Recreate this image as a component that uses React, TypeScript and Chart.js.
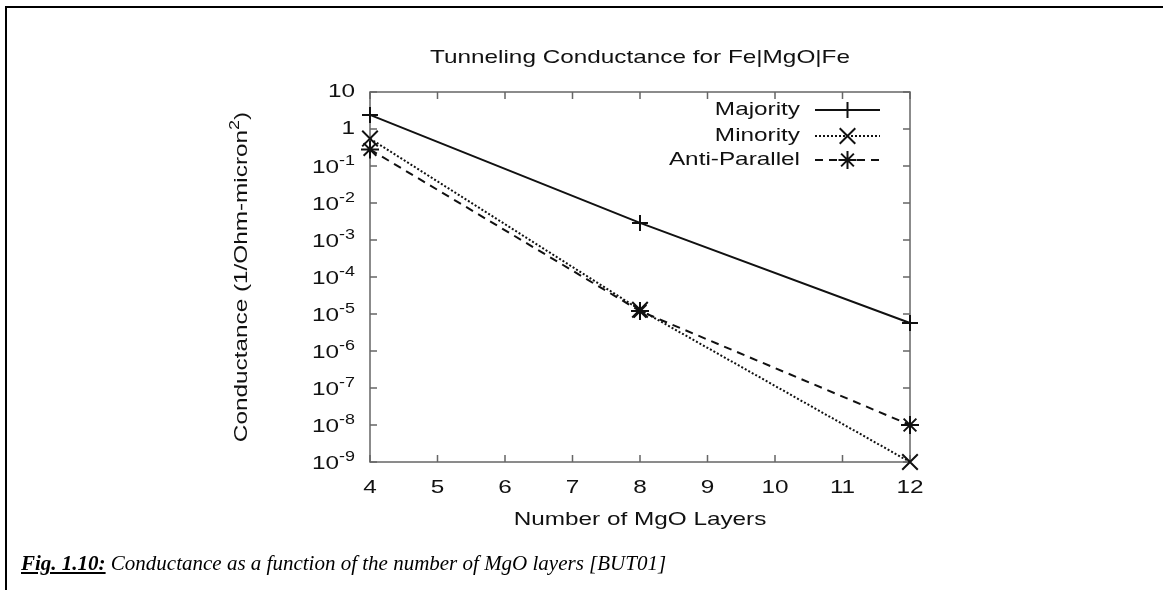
import React, { useEffect, useRef } from "react";
import { Chart, registerables } from "chart.js";

Chart.register(...registerables);

// ---- data ----
const layers = [4, 8, 12];
const majority = [2.4, 2.9e-3, 5.7e-6];
const minority = [0.55, 1.3e-5, 1.0e-9];
const antiParallel = [0.28, 1.2e-5, 1.0e-8];
const seriesNames = ["Majority", "Minority", "Anti-Parallel"];
const xTicks = [4, 5, 6, 7, 8, 9, 10, 11, 12];
const yTickExps = [1, 0, -1, -2, -3, -4, -5, -6, -7, -8, -9];
const chartTitle = "Tunneling Conductance for Fe|MgO|Fe";
const xTitle = "Number of MgO Layers";
const yTitleMain = "Conductance (1/Ohm-micron";
const yTitleSup = "2";
const yTitleEnd = ")";
const captionLead = "Fig. 1.10:";
const captionText = " Conductance as a function of the number of MgO layers [BUT01]";

const W = 1163;
const H = 590;
const FONT = "'Liberation Sans', Arial, Helvetica, sans-serif";
const INK = "#111";
const AXIS = "#666";
const SX = 1.28; // horizontal glyph stretch of the original plot font
const BIG = 19;
const SMALL = 14;

type Style = { dash: number[]; marker: string; radius: number };
const styles: Style[] = [
  { dash: [], marker: "cross", radius: 8 },
  { dash: [2, 2], marker: "crossRot", radius: 11 },
  { dash: [8, 6], marker: "star", radius: 9 },
];

function tw(ctx: CanvasRenderingContext2D, s: string, size: number) {
  ctx.font = `${size}px ${FONT}`;
  return ctx.measureText(s).width * SX;
}

// draws text left-aligned at (x,y) (middle baseline), glyphs stretched by SX
function txt(ctx: CanvasRenderingContext2D, s: string, x: number, y: number, size: number) {
  ctx.save();
  ctx.font = `${size}px ${FONT}`;
  ctx.textAlign = "left";
  ctx.textBaseline = "middle";
  ctx.fillStyle = INK;
  ctx.translate(x, y);
  ctx.scale(SX, 1);
  ctx.fillText(s, 0, 0);
  ctx.restore();
}

function drawMarker(ctx: CanvasRenderingContext2D, kind: string, x: number, y: number, r: number) {
  ctx.save();
  ctx.setLineDash([]);
  ctx.lineWidth = 2;
  ctx.strokeStyle = INK;
  ctx.beginPath();
  const d = r * Math.SQRT1_2;
  if (kind === "cross" || kind === "star") {
    ctx.moveTo(x - r, y);
    ctx.lineTo(x + r, y);
    ctx.moveTo(x, y - r);
    ctx.lineTo(x, y + r);
  }
  if (kind === "crossRot" || kind === "star") {
    ctx.moveTo(x - d, y - d);
    ctx.lineTo(x + d, y + d);
    ctx.moveTo(x - d, y + d);
    ctx.lineTo(x + d, y - d);
  }
  ctx.stroke();
  ctx.restore();
}

function drawPow(ctx: CanvasRenderingContext2D, exp: number, xRight: number, yc: number) {
  if (exp === 0 || exp === 1) {
    const s = exp === 0 ? "1" : "10";
    txt(ctx, s, xRight - tw(ctx, s, BIG), yc, BIG);
  } else {
    const sup = String(exp);
    const ws = tw(ctx, sup, SMALL);
    const wb = tw(ctx, "10", BIG);
    const x0 = xRight - ws - wb;
    txt(ctx, "10", x0, yc + 2, BIG);
    txt(ctx, sup, x0 + wb, yc - 5, SMALL);
  }
}

const gnuplotPlugin = {
  id: "gnuplotFrame",
  beforeDatasetsDraw(chart: any) {
    const { ctx, chartArea: a, scales } = chart;
    const xs = scales.x;
    const ys = scales.y;
    ctx.save();
    ctx.strokeStyle = AXIS;
    ctx.lineWidth = 1.5;
    ctx.strokeRect(a.left, a.top, a.right - a.left, a.bottom - a.top);
    ctx.beginPath();
    const tl = 7;
    for (const v of xTicks) {
      const px = xs.getPixelForValue(v);
      ctx.moveTo(px, a.bottom);
      ctx.lineTo(px, a.bottom - tl);
      ctx.moveTo(px, a.top);
      ctx.lineTo(px, a.top + tl);
    }
    for (const e of yTickExps) {
      const py = ys.getPixelForValue(Math.pow(10, e));
      ctx.moveTo(a.left, py);
      ctx.lineTo(a.left + tl, py);
      ctx.moveTo(a.right, py);
      ctx.lineTo(a.right - tl, py);
    }
    ctx.stroke();
    ctx.restore();
  },
  afterDatasetsDraw(chart: any) {
    const { ctx, chartArea: a, scales } = chart;
    const xs = scales.x;
    const ys = scales.y;
    const cx = (a.left + a.right) / 2;
    ctx.save();
    // x tick labels
    for (const v of xTicks) {
      const s = String(v);
      txt(ctx, s, xs.getPixelForValue(v) - tw(ctx, s, BIG) / 2, a.bottom + 26, BIG);
    }
    // y tick labels
    for (const e of yTickExps) {
      drawPow(ctx, e, a.left - 15, ys.getPixelForValue(Math.pow(10, e)));
    }
    // title
    txt(ctx, chartTitle, cx - tw(ctx, chartTitle, BIG) / 2, a.top - 34, BIG);
    // x title
    txt(ctx, xTitle, cx - tw(ctx, xTitle, BIG) / 2, a.bottom + 58, BIG);
    // y title rotated
    ctx.save();
    ctx.translate(a.left - 128, (a.top + a.bottom) / 2);
    ctx.rotate(-Math.PI / 2);
    const w1 = tw(ctx, yTitleMain, BIG);
    const w2 = tw(ctx, yTitleSup, SMALL);
    const w3 = tw(ctx, yTitleEnd, BIG);
    const x0 = -(w1 + w2 + w3) / 2;
    txt(ctx, yTitleMain, x0, 0, BIG);
    txt(ctx, yTitleSup, x0 + w1, -7, SMALL);
    txt(ctx, yTitleEnd, x0 + w1 + w2, 0, BIG);
    ctx.restore();
    // legend
    const rowY = [a.top + 18, a.top + 44, a.top + 68];
    const textRight = a.right - 110;
    const sx0 = a.right - 95;
    const sx1 = a.right - 30;
    seriesNames.forEach((name, i) => {
      const y = rowY[i];
      txt(ctx, name, textRight - tw(ctx, name, BIG), y, BIG);
      ctx.save();
      ctx.strokeStyle = INK;
      ctx.lineWidth = 2;
      ctx.setLineDash(styles[i].dash);
      ctx.beginPath();
      ctx.moveTo(sx0, y);
      ctx.lineTo(sx1, y);
      ctx.stroke();
      ctx.restore();
      drawMarker(ctx, styles[i].marker, (sx0 + sx1) / 2, y, styles[i].radius);
    });
    ctx.restore();
  },
};

export default function App() {
  const ref = useRef<HTMLCanvasElement | null>(null);
  useEffect(() => {
    if (!ref.current) return;
    const series = [majority, minority, antiParallel];
    const chart = new Chart(ref.current, {
      type: "line",
      data: {
        datasets: series.map((vals, i) => ({
          label: seriesNames[i],
          data: layers.map((x, j) => ({ x, y: vals[j] })),
          borderColor: INK,
          borderWidth: 2,
          borderDash: styles[i].dash,
          pointStyle: styles[i].marker as any,
          pointRadius: styles[i].radius,
          pointBorderWidth: 2,
          pointBorderColor: INK,
          pointBackgroundColor: INK,
          fill: false,
          tension: 0,
          clip: false as any,
        })),
      },
      options: {
        animation: false,
        responsive: false,
        events: [],
        layout: { padding: { left: 370, top: 92, right: W - 910, bottom: H - 462 } },
        plugins: { legend: { display: false }, tooltip: { enabled: false }, title: { display: false } },
        scales: {
          x: { type: "linear", min: 4, max: 12, display: false },
          y: { type: "logarithmic", min: 1e-9, max: 10, display: false },
        },
      },
      plugins: [gnuplotPlugin],
    });
    return () => chart.destroy();
  }, []);

  return (
    <div style={{ position: "absolute", left: 0, top: 0, width: W, height: H, overflow: "hidden", background: "#fff" }}>
      <canvas ref={ref} width={W} height={H} style={{ position: "absolute", left: 0, top: 0, width: W, height: H }} />
      <div
        style={{
          position: "absolute",
          left: 5,
          top: 6,
          width: W - 5,
          height: H - 6,
          borderTop: "2px solid #000",
          borderLeft: "2px solid #000",
          boxSizing: "border-box",
          pointerEvents: "none",
        }}
      />
      <div
        style={{
          position: "absolute",
          left: 21,
          top: 551,
          fontFamily: "'Liberation Serif', 'Times New Roman', serif",
          fontStyle: "italic",
          fontSize: 21,
          whiteSpace: "nowrap",
          color: "#000",
        }}
      >
        <span style={{ fontWeight: "bold", textDecoration: "underline" }}>{captionLead}</span>
        <span>{captionText}</span>
      </div>
    </div>
  );
}
